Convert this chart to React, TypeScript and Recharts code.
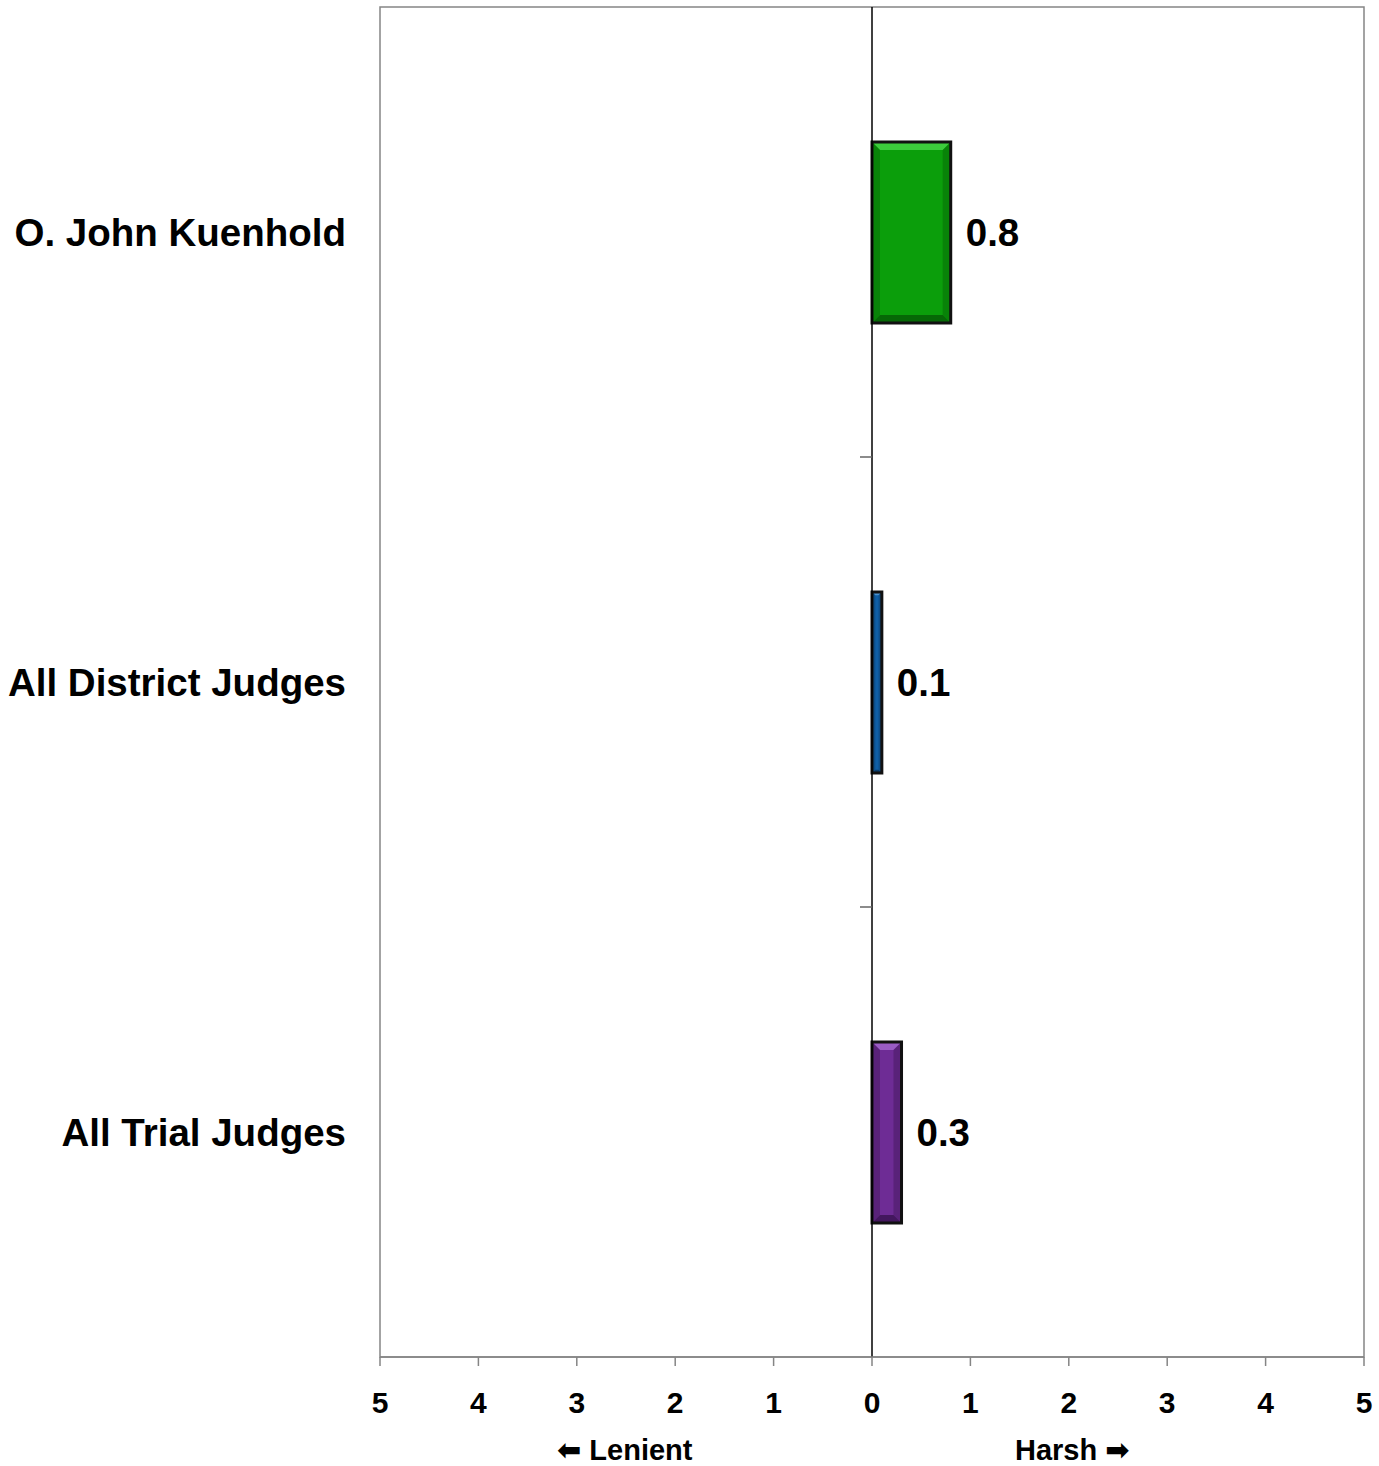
import React from "react";
import {
  BarChart,
  Bar,
  XAxis,
  YAxis,
  Cell,
  LabelList,
  ReferenceLine,
  ReferenceArea,
} from "recharts";

// Sentencing score per group (negative = lenient, positive = harsh)
const judges = ["O. John Kuenhold", "All District Judges", "All Trial Judges"];
const scores = [0.8, 0.1, 0.3];
const barColors = ["#0b9e0b", "#0f5fa6", "#6e2c95"];
const barLight = ["#3ccc3c", "#4a92d0", "#9a5cc4"];
const barDark = ["#066806", "#093d6c", "#43175e"];
const xTicks = [-5, -4, -3, -2, -1, 0, 1, 2, 3, 4, 5];

const data = judges.map((name, i) => ({ name, value: scores[i] }));

const FONT = "'Liberation Sans', Arial, sans-serif";
const GRAY = "#858585";

// Bar with a slight bevel, like the old Office 3D bars
function BevelBar(props: any) {
  const { x, y, width, height, fill, index } = props;
  if (!width || !height) return null;
  const b = Math.min(8, width / 3, height / 3);
  const light = barLight[index] ?? fill;
  const dark = barDark[index] ?? fill;
  return (
    <g>
      <rect x={x} y={y} width={width} height={height} fill={fill} />
      <polygon
        points={`${x},${y} ${x + width},${y} ${x + width - b},${y + b} ${x + b},${y + b}`}
        fill={light}
      />
      <polygon
        points={`${x},${y + height} ${x + width},${y + height} ${x + width - b},${y + height - b} ${x + b},${y + height - b}`}
        fill={dark}
      />
      <polygon
        points={`${x},${y} ${x + b},${y + b} ${x + b},${y + height - b} ${x},${y + height}`}
        fill={dark}
        fillOpacity={0.5}
      />
      <polygon
        points={`${x + width},${y} ${x + width - b},${y + b} ${x + width - b},${y + height - b} ${x + width},${y + height}`}
        fill={dark}
        fillOpacity={0.5}
      />
      <rect x={x} y={y} width={width} height={height} fill="none" stroke="#111" strokeWidth={3} />
    </g>
  );
}

export default function App() {
  return (
    <div style={{ position: "absolute", left: 0, top: 0, width: 1379, height: 1466, fontFamily: FONT }}>
      <BarChart
        width={1379}
        height={1466}
        data={data}
        layout="vertical"
        margin={{ top: 7, right: 15, left: 0, bottom: 49 }}
        barSize={181}
      >
        <XAxis
          type="number"
          domain={[-5, 5]}
          ticks={xTicks}
          interval={0}
          tickFormatter={(v: number) => String(Math.abs(v))}
          tick={{ fontSize: 30, fontWeight: 700, fill: "#000", fontFamily: FONT }}
          stroke={GRAY}
          tickSize={9}
          tickMargin={26}
          height={60}
          axisLine={{ stroke: GRAY, strokeWidth: 1.5 }}
          tickLine={{ stroke: GRAY, strokeWidth: 1.5 }}
        />
        <YAxis
          type="category"
          dataKey="name"
          width={380}
          axisLine={false}
          tickLine={false}
          tickSize={0}
          tickMargin={34}
          tick={{ fontSize: 38.5, fontWeight: 700, fill: "#000", fontFamily: FONT }}
        />
        <ReferenceArea
          x1={-5}
          x2={5}
          fill="none"
          stroke={GRAY}
          strokeWidth={1.5}
          fillOpacity={0}
        />
        <ReferenceLine x={0} stroke="#000" strokeWidth={1.5} />
        {/* small category ticks on the zero line, between the bands */}
        {judges.slice(0, 2).map((name) => (
          <ReferenceLine
            key={name}
            position="end"
            segment={[
              { x: -0.122, y: name },
              { x: 0, y: name },
            ]}
            stroke="#666"
            strokeWidth={1.5}
          />
        ))}
        <Bar dataKey="value" shape={<BevelBar />} isAnimationActive={false}>
          {data.map((d, i) => (
            <Cell key={d.name} fill={barColors[i]} />
          ))}
          <LabelList
            dataKey="value"
            position="right"
            offset={15}
            formatter={(v: number) => v.toFixed(1)}
            style={{ fontSize: 38.5, fontWeight: 700, fill: "#000", fontFamily: FONT }}
          />
        </Bar>
      </BarChart>
      <div
        style={{
          position: "absolute",
          left: 557,
          top: 1433,
          fontSize: 29,
          fontWeight: 700,
          whiteSpace: "nowrap",
        }}
      >
        <span style={{ fontFamily: "'DejaVu Sans'", fontWeight: 700 }}>{"\u2B05"}</span> Lenient
      </div>
      <div
        style={{
          position: "absolute",
          left: 1015,
          top: 1433,
          fontSize: 29,
          fontWeight: 700,
          whiteSpace: "nowrap",
        }}
      >
        Harsh <span style={{ fontFamily: "'DejaVu Sans'", fontWeight: 700 }}>{"\u27A1"}</span>
      </div>
    </div>
  );
}
